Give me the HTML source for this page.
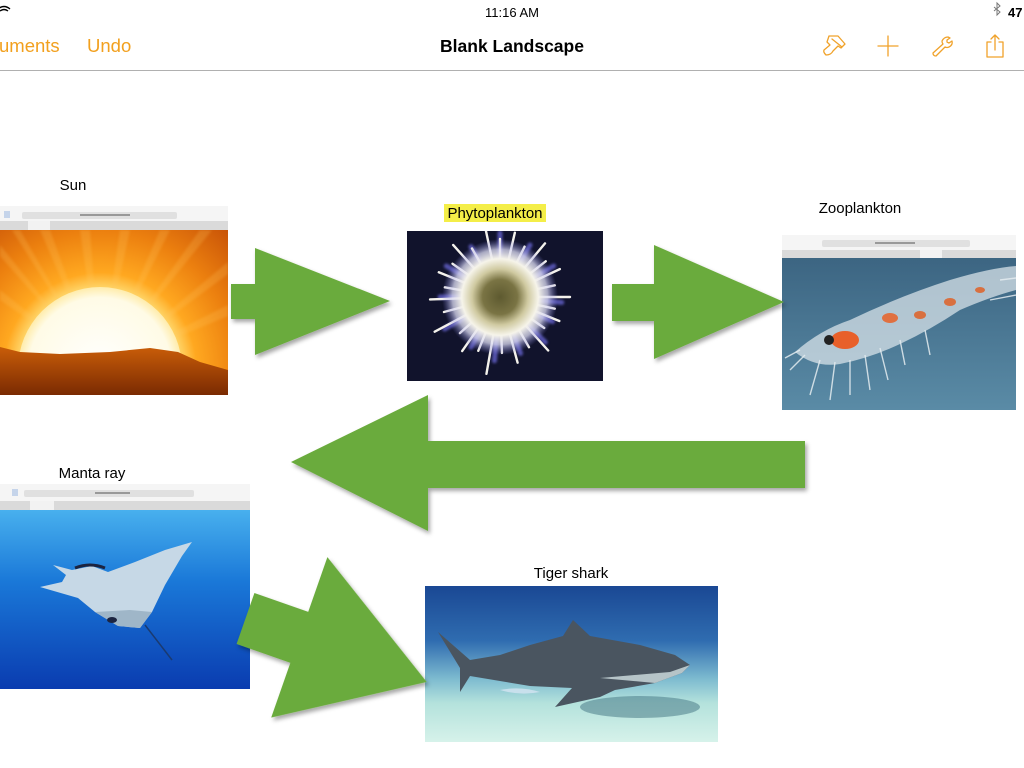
<!DOCTYPE html>
<html><head><meta charset="utf-8"><style>
html,body{margin:0;padding:0;background:#fff;width:1024px;height:768px;overflow:hidden}
svg{display:block}
text{font-family:"Liberation Sans",Arial,sans-serif}
</style></head><body>
<svg width="1024" height="768" viewBox="0 0 1024 768" xmlns="http://www.w3.org/2000/svg">
<defs>
  <filter id="sh" x="-20%" y="-20%" width="140%" height="140%">
    <feDropShadow dx="2" dy="3" stdDeviation="2" flood-color="#000" flood-opacity="0.35"/>
  </filter>
  <filter id="blur1"><feGaussianBlur stdDeviation="1.2"/></filter>
  <clipPath id="csun"><rect x="0" y="230" width="228" height="165"/></clipPath>
  <clipPath id="cphy"><rect x="407" y="231" width="196" height="150"/></clipPath>
  <clipPath id="czoo"><rect x="782" y="258" width="234" height="152"/></clipPath>
  <clipPath id="cman"><rect x="0" y="510" width="250" height="179"/></clipPath>
  <clipPath id="cshk"><rect x="425" y="586" width="293" height="156"/></clipPath>
  <radialGradient id="sunbg" cx="100" cy="369" r="230" gradientUnits="userSpaceOnUse">
    <stop offset="0" stop-color="#fff6d0"/>
    <stop offset="0.36" stop-color="#ffd060"/>
    <stop offset="0.42" stop-color="#ffa820"/>
    <stop offset="0.6" stop-color="#ec800f"/>
    <stop offset="0.8" stop-color="#cc5808"/>
    <stop offset="1" stop-color="#9a3604"/>
  </radialGradient>
  <radialGradient id="sunc" cx="100" cy="369" r="84" gradientUnits="userSpaceOnUse">
    <stop offset="0" stop-color="#ffffff"/>
    <stop offset="0.85" stop-color="#fffbe6"/>
    <stop offset="1" stop-color="#ffe9a0"/>
  </radialGradient>
  <linearGradient id="ground" x1="0" y1="350" x2="0" y2="395" gradientUnits="userSpaceOnUse">
    <stop offset="0" stop-color="#c45a08"/>
    <stop offset="1" stop-color="#7a2a02"/>
  </linearGradient>
  <radialGradient id="phy" cx="500" cy="297" r="58" gradientUnits="userSpaceOnUse">
    <stop offset="0" stop-color="#5e5a30"/>
    <stop offset="0.3" stop-color="#7a7444"/>
    <stop offset="0.48" stop-color="#cfc9a0"/>
    <stop offset="0.66" stop-color="#f6f4ea"/>
    <stop offset="0.82" stop-color="#dcdcf4" stop-opacity="0.75"/>
    <stop offset="1" stop-color="#8080e0" stop-opacity="0"/>
  </radialGradient>
  <linearGradient id="zoo" x1="0" y1="258" x2="0" y2="410" gradientUnits="userSpaceOnUse">
    <stop offset="0" stop-color="#3c6582"/>
    <stop offset="1" stop-color="#5a8ba6"/>
  </linearGradient>
  <linearGradient id="manta" x1="0" y1="510" x2="0" y2="689" gradientUnits="userSpaceOnUse">
    <stop offset="0" stop-color="#48b0ee"/>
    <stop offset="0.4" stop-color="#1a78d8"/>
    <stop offset="1" stop-color="#0a3cb0"/>
  </linearGradient>
  <linearGradient id="shark" x1="0" y1="586" x2="0" y2="742" gradientUnits="userSpaceOnUse">
    <stop offset="0" stop-color="#1a4894"/>
    <stop offset="0.35" stop-color="#2f6cb0"/>
    <stop offset="0.6" stop-color="#7fbcd0"/>
    <stop offset="0.75" stop-color="#b4e2dc"/>
    <stop offset="1" stop-color="#d6f2ea"/>
  </linearGradient>
</defs>

<!-- status bar -->
<path d="M-2 9 Q4 4 10 9 M0 11 Q4 8 8 11" stroke="#000" stroke-width="1.4" fill="none"/>
<text x="512" y="17" font-size="13" text-anchor="middle" fill="#000">11:16 AM</text>
<path d="M994 7 L1000 12 L997 15 L997 3 L1000 6 L994 11" stroke="#777" stroke-width="1" fill="none"/>
<text x="1008" y="17" font-size="13" fill="#000" font-weight="bold">47</text>

<!-- nav bar -->
<text x="-1" y="52" font-size="18.5" fill="#f2a01e">uments</text>
<text x="87" y="52" font-size="18.5" fill="#f2a01e">Undo</text>
<text x="512" y="52" font-size="17.5" font-weight="bold" text-anchor="middle" fill="#000">Blank Landscape</text>
<g stroke="#f0a22a" stroke-width="1.3" fill="none" stroke-linecap="round" stroke-linejoin="round">
  <path d="M829 36 L838 36 L845 44 L841 48 L838 46 L833 51 Q831 55 826 55 Q823 52 824 50 L830 45 L827 42 Z M832 39 L842 47"/>
  <path d="M878 46 H898 M888 36 V56"/>
  <path d="M948 37 Q944 37 942 41 Q942 43 943 44 L933 53 Q933 56 936 56 L945 47 Q947 48 949 47 Q953 45 952 41 L949 43 L947 42 L947 40 L950 38 Z"/>
  <path d="M991 42 H987 V57 H1003 V42 H999 M995 50 V35 M991 39 L995 35 L999 39"/>
</g>
<line x1="0" y1="70.5" x2="1024" y2="70.5" stroke="#b0b0b0" stroke-width="1"/>

<!-- Sun -->
<text x="73" y="190" font-size="15" text-anchor="middle" fill="#000">Sun</text>
<g>
  <rect x="0" y="206" width="228" height="24" fill="#f5f5f5"/>
  <rect x="22" y="212" width="155" height="7" rx="2" fill="#e0e0e0"/>
  <rect x="80" y="214" width="50" height="2" fill="#999"/>
  <rect x="4" y="211" width="6" height="7" fill="#c5d4ea"/>
  <rect x="0" y="221" width="228" height="9" fill="#dadada"/>
  <rect x="28" y="221" width="22" height="9" fill="#f2f2f2"/>
  <g clip-path="url(#csun)">
    <rect x="0" y="230" width="228" height="165" fill="url(#sunbg)"/>
    <g fill="#ffc860" opacity="0.22" filter="url(#blur1)">
      <polygon points="100,369 40,230 50,230"/>
      <polygon points="100,369 80,230 90,230"/>
      <polygon points="100,369 120,230 130,230"/>
      <polygon points="100,369 160,230 170,230"/>
      <polygon points="100,369 200,230 212,230"/>
      <polygon points="100,369 228,262 228,274"/>
      <polygon points="100,369 228,305 228,316"/>
      <polygon points="100,369 0,245 0,256"/>
      <polygon points="100,369 0,290 0,300"/>
      <polygon points="100,369 12,230 20,230"/>
    </g>
    <circle cx="100" cy="369" r="82" fill="url(#sunc)"/>
    <polygon points="0,347 20,352 60,354 110,352 150,348 178,352 200,362 228,370 228,395 0,395" fill="url(#ground)"/>
  </g>
</g>

<!-- Phytoplankton -->
<rect x="444" y="204" width="102" height="18" fill="#f4ee48"/>
<text x="495" y="218" font-size="15" text-anchor="middle" fill="#000">Phytoplankton</text>
<rect x="407" y="231" width="196" height="150" fill="#11132c"/>
<g clip-path="url(#cphy)">
<g transform="translate(500,297)" stroke-linecap="round">
  <g stroke="#6a68d8" stroke-width="5" opacity="0.75" filter="url(#blur1)">
    <line x1="0" y1="0" x2="62" y2="0" transform="rotate(5)"/>
    <line x1="0" y1="0" x2="58" y2="0" transform="rotate(25)"/>
    <line x1="0" y1="0" x2="64" y2="0" transform="rotate(45)"/>
    <line x1="0" y1="0" x2="60" y2="0" transform="rotate(70)"/>
    <line x1="0" y1="0" x2="64" y2="0" transform="rotate(95)"/>
    <line x1="0" y1="0" x2="58" y2="0" transform="rotate(120)"/>
    <line x1="0" y1="0" x2="64" y2="0" transform="rotate(150)"/>
    <line x1="0" y1="0" x2="60" y2="0" transform="rotate(180)"/>
    <line x1="0" y1="0" x2="62" y2="0" transform="rotate(210)"/>
    <line x1="0" y1="0" x2="58" y2="0" transform="rotate(240)"/>
    <line x1="0" y1="0" x2="64" y2="0" transform="rotate(270)"/>
    <line x1="0" y1="0" x2="60" y2="0" transform="rotate(300)"/>
    <line x1="0" y1="0" x2="62" y2="0" transform="rotate(330)"/>
  </g>
  <g stroke="#f4f2ec" stroke-width="2.4">
    <line x1="0" y1="0" x2="70" y2="0" transform="rotate(0)"/>
    <line x1="0" y1="0" x2="56" y2="0" transform="rotate(12)"/>
    <line x1="0" y1="0" x2="64" y2="0" transform="rotate(22)"/>
    <line x1="0" y1="0" x2="54" y2="0" transform="rotate(35)"/>
    <line x1="0" y1="0" x2="72" y2="0" transform="rotate(48)"/>
    <line x1="0" y1="0" x2="58" y2="0" transform="rotate(60)"/>
    <line x1="0" y1="0" x2="68" y2="0" transform="rotate(75)"/>
    <line x1="0" y1="0" x2="56" y2="0" transform="rotate(88)"/>
    <line x1="0" y1="0" x2="78" y2="0" transform="rotate(100)"/>
    <line x1="0" y1="0" x2="58" y2="0" transform="rotate(112)"/>
    <line x1="0" y1="0" x2="66" y2="0" transform="rotate(125)"/>
    <line x1="0" y1="0" x2="54" y2="0" transform="rotate(138)"/>
    <line x1="0" y1="0" x2="74" y2="0" transform="rotate(152)"/>
    <line x1="0" y1="0" x2="58" y2="0" transform="rotate(165)"/>
    <line x1="0" y1="0" x2="70" y2="0" transform="rotate(178)"/>
    <line x1="0" y1="0" x2="56" y2="0" transform="rotate(190)"/>
    <line x1="0" y1="0" x2="66" y2="0" transform="rotate(202)"/>
    <line x1="0" y1="0" x2="58" y2="0" transform="rotate(215)"/>
    <line x1="0" y1="0" x2="70" y2="0" transform="rotate(228)"/>
    <line x1="0" y1="0" x2="56" y2="0" transform="rotate(240)"/>
    <line x1="0" y1="0" x2="82" y2="0" transform="rotate(258)"/>
    <line x1="0" y1="0" x2="58" y2="0" transform="rotate(270)"/>
    <line x1="0" y1="0" x2="66" y2="0" transform="rotate(283)"/>
    <line x1="0" y1="0" x2="56" y2="0" transform="rotate(296)"/>
    <line x1="0" y1="0" x2="70" y2="0" transform="rotate(310)"/>
    <line x1="0" y1="0" x2="58" y2="0" transform="rotate(322)"/>
    <line x1="0" y1="0" x2="66" y2="0" transform="rotate(335)"/>
    <line x1="0" y1="0" x2="56" y2="0" transform="rotate(348)"/>
  </g>
</g>
<circle cx="500" cy="297" r="58" fill="url(#phy)"/>
</g>

<!-- Zooplankton -->
<text x="860" y="213" font-size="15" text-anchor="middle" fill="#000">Zooplankton</text>
<g>
  <rect x="782" y="235" width="234" height="23" fill="#f5f5f5"/>
  <rect x="822" y="240" width="148" height="7" rx="2" fill="#e0e0e0"/>
  <rect x="875" y="242" width="40" height="2" fill="#999"/>
  <rect x="782" y="250" width="234" height="8" fill="#dadada"/>
  <rect x="920" y="250" width="22" height="8" fill="#f2f2f2"/>
  <g clip-path="url(#czoo)">
  <rect x="782" y="258" width="234" height="152" fill="url(#zoo)"/>
  <g>
    <path d="M795 352 Q820 330 850 320 Q900 296 950 280 Q990 268 1016 266 L1016 290 Q990 297 960 310 Q930 330 900 344 Q870 358 840 364 Q815 368 795 352 Z" fill="#dce6ec" opacity="0.72"/>
    <ellipse cx="845" cy="340" rx="14" ry="9" fill="#e8602a"/>
    <ellipse cx="890" cy="318" rx="8" ry="5" fill="#e07040"/>
    <ellipse cx="920" cy="315" rx="6" ry="4" fill="#d87040"/>
    <ellipse cx="950" cy="302" rx="6" ry="4" fill="#d87040"/>
    <ellipse cx="980" cy="290" rx="5" ry="3" fill="#d87040"/>
    <circle cx="829" cy="340" r="5" fill="#222"/>
    <g stroke="#e4ecf0" stroke-width="1.4" fill="none" opacity="0.85">
      <path d="M800 350 L785 358 M805 355 L790 370 M820 360 L810 395 M835 362 L830 400 M850 360 L850 395 M865 355 L870 390 M880 348 L888 380 M900 340 L905 365 M925 330 L930 355"/>
      <path d="M1016 295 L990 300 M1000 280 L1016 278"/>
    </g>
  </g>
  </g>
</g>

<!-- Manta ray -->
<text x="92" y="478" font-size="15" text-anchor="middle" fill="#000">Manta ray</text>
<g>
  <rect x="0" y="484" width="250" height="26" fill="#f5f5f5"/>
  <rect x="24" y="490" width="170" height="7" rx="2" fill="#e0e0e0"/>
  <rect x="95" y="492" width="35" height="2" fill="#999"/>
  <rect x="12" y="489" width="6" height="7" fill="#c5d4ea"/>
  <rect x="0" y="501" width="250" height="9" fill="#dadada"/>
  <rect x="30" y="501" width="24" height="9" fill="#f2f2f2"/>
  <g clip-path="url(#cman)">
  <rect x="0" y="510" width="250" height="179" fill="url(#manta)"/>
  <path d="M53 565 L72 570 L92 566 L108 572 L135 562 L165 550 L192 542 L182 556 L165 585 L152 612 L140 628 L118 626 L95 612 L78 598 L40 587 L62 582 L66 575 Z" fill="#c6d8e6"/>
  <path d="M95 612 L118 626 L140 628 L152 612 L130 610 Z" fill="#9fb6c8"/>
  <path d="M145 625 L172 660" stroke="#1a3a70" stroke-width="1.5"/>
  <ellipse cx="112" cy="620" rx="5" ry="3" fill="#1c2440"/>
  <path d="M75 568 Q90 562 105 568" stroke="#1c2440" stroke-width="3" fill="none"/>
  </g>
</g>

<!-- Tiger shark -->
<text x="571" y="578" font-size="15" text-anchor="middle" fill="#000">Tiger shark</text>
<g clip-path="url(#cshk)">
  <rect x="425" y="586" width="293" height="156" fill="url(#shark)"/>
  <ellipse cx="640" cy="707" rx="60" ry="11" fill="#4a7c88" opacity="0.55"/>
  <path d="M438 632 L470 660 L500 655 L530 645 L563 636 L573 620 L590 636 L640 645 L675 655 L690 665 L682 673 L655 683 L615 690 L600 697 L555 707 L572 688 L530 686 L500 681 L470 676 L460 692 L460 668 Z" fill="#4a5560"/>
  <path d="M600 678 L655 683 L682 673 L690 665 L670 672 Z" fill="#b6c4c8"/>
  <path d="M500 690 Q520 686 540 692 Q520 696 500 690 Z" fill="#c8e0ec"/>
</g>

<!-- Arrows (on top) -->
<g fill="#6aab3c" filter="url(#sh)">
  <polygon points="231,284 255,284 255,248 390,301 255,355 255,319 231,319"/>
  <polygon points="612,284 654,284 654,245 784,302 654,359 654,321 612,321"/>
  <polygon points="805,441 428,441 428,395 291,462 428,531 428,488 805,488"/>
  <polygon points="0,-27 57,-27 57,-85 192,0 57,85 57,27 0,27" transform="translate(245.5,618.5) rotate(19.3)"/>
</g>
</svg>
</body></html>
